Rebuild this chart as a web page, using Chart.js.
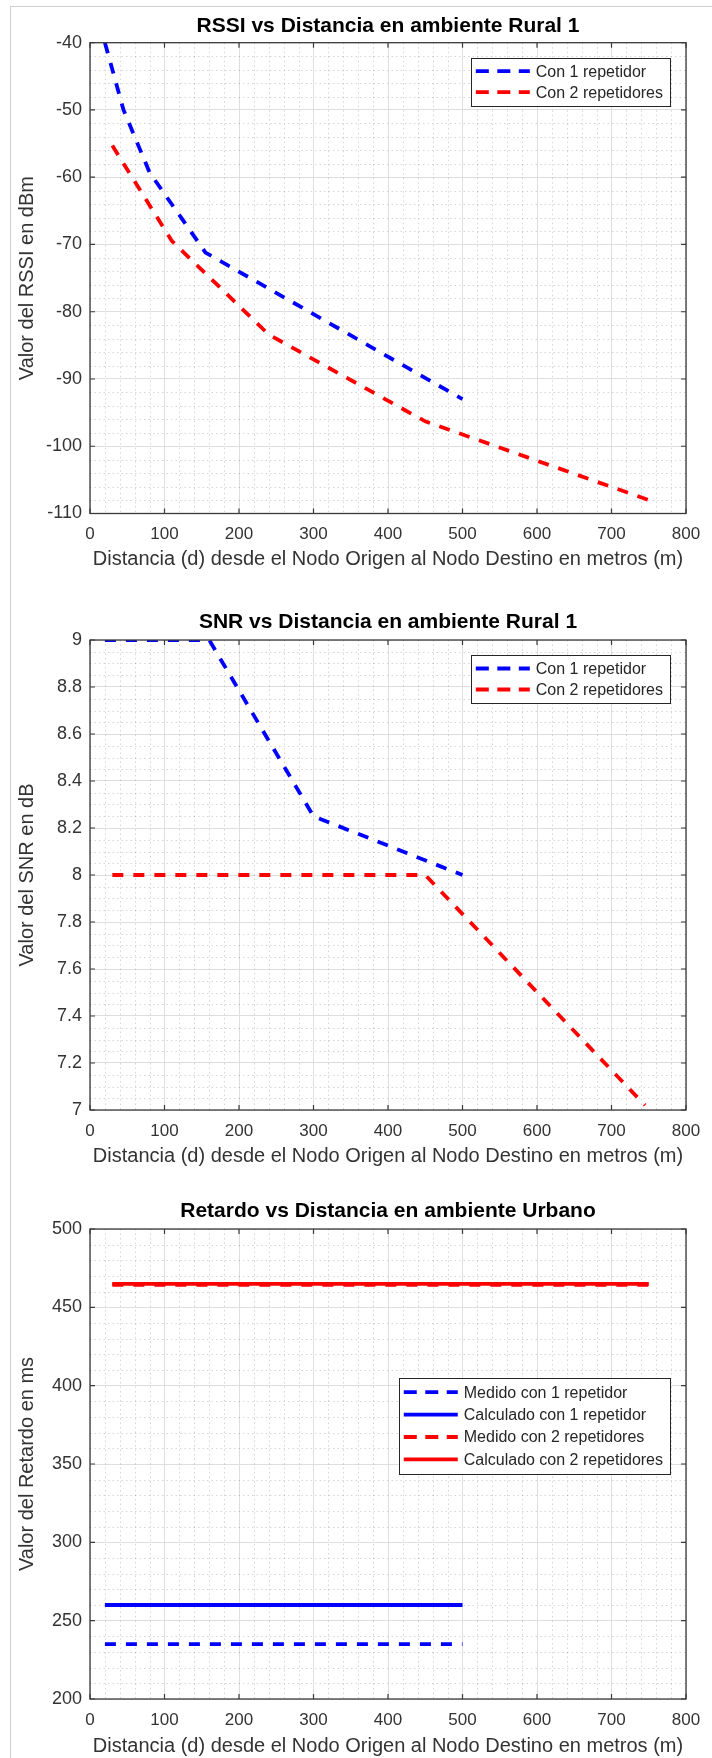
<!DOCTYPE html>
<html>
<head>
<meta charset="utf-8">
<script src="https://cdn.jsdelivr.net/npm/chart.js@4.4.0/dist/chart.umd.min.js"></script>
<style>
  html, body { margin: 0; padding: 0; background: #fff; }
  #page { position: relative; width: 712px; height: 1758px; overflow: hidden; }
  #frame { position: absolute; left: 10px; top: 6px; right: 0; bottom: 0;
           border-left: 1px solid #cfcfcf; border-top: 1px solid #cfcfcf; }
  .plot { position: absolute; left: 0; width: 712px; }
</style>
</head>
<body>
<div id="page">
  <div id="frame"></div>
  <div class="plot" style="top:0;height:580px"><canvas id="c1" width="712" height="580"></canvas></div>
  <div class="plot" style="top:580px;height:600px"><canvas id="c2" width="712" height="600"></canvas></div>
  <div class="plot" style="top:1180px;height:578px"><canvas id="c3" width="712" height="578"></canvas></div>
</div>
<script>
// --- data ---
const xTicks = [0, 100, 200, 300, 400, 500, 600, 700, 800];
const xTitle = 'Distancia (d) desde el Nodo Origen al Nodo Destino en metros (m)';

// RSSI
const rssiTicks = [-110, -100, -90, -80, -70, -60, -50, -40];
const rssiDist1 = [20, 45, 80, 155, 500];
const rssi1 = [-40, -50, -59.3, -71.2, -93];
const rssiDist2 = [30, 110, 240, 450, 750];
const rssi2 = [-55.3, -69.5, -83.4, -96.3, -108];

// SNR
const snrTicks = [7, 7.2, 7.4, 7.6, 7.8, 8, 8.2, 8.4, 8.6, 8.8, 9];
const snrDist1 = [20, 160, 300, 500];
const snr1 = [9, 9, 8.25, 8];
const snrDist2 = [30, 450, 745];
const snr2 = [8, 8, 7.02];

// Retardo
const retTicks = [200, 250, 300, 350, 400, 450, 500];
const retDist1 = [20, 500];
const retMedido1 = [235, 235];
const retCalc1 = [260, 260];
const retDist2 = [30, 750];
const retMedido2 = [464.4, 464.4];
const retCalc2 = [465, 465];

const labels12 = ['Con 1 repetidor', 'Con 2 repetidores'];
const labelsRet = ['Medido con 1 repetidor', 'Calculado con 1 repetidor',
                   'Medido con 2 repetidores', 'Calculado con 2 repetidores'];

// --- drawing ---
const FONT = '"Liberation Sans", Arial, Helvetica, sans-serif';
Chart.defaults.font.family = FONT;
const DASH = [11, 10];

function pts(xs, ys) { return xs.map((x, i) => ({ x: x, y: ys[i] })); }

function series(label, xs, ys, color, dashed, order) {
  return {
    label: label, data: pts(xs, ys), borderColor: color, backgroundColor: color,
    borderWidth: 3.8, borderDash: dashed ? DASH : [], pointRadius: 0,
    fill: false, tension: 0, order: order
  };
}

const matlabAxes = {
  id: 'matlabAxes',
  beforeDatasetsDraw(chart, args, o) {
    const { ctx, chartArea: a, scales: { x, y } } = chart;
    ctx.save();
    ctx.strokeStyle = 'rgba(0,0,0,0.16)';
    ctx.lineWidth = 1;
    ctx.setLineDash([1.5, 3]);
    const minor = (sc, step, major, vert) => {
      const n = Math.round((sc.max - sc.min) / step);
      for (let i = 1; i < n; i++) {
        const v = sc.min + i * step;
        const r = v / major;
        if (Math.abs(r - Math.round(r)) < 1e-6) continue;
        const p = Math.round(sc.getPixelForValue(v)) + 0.5;
        ctx.beginPath();
        if (vert) { ctx.moveTo(p, a.top); ctx.lineTo(p, a.bottom); }
        else { ctx.moveTo(a.left, p); ctx.lineTo(a.right, p); }
        ctx.stroke();
      }
    };
    minor(x, o.xMinor, 100, true);
    minor(y, o.yMinor, o.yMajor, false);
    ctx.restore();
  },
  afterDatasetsDraw(chart, args, o) {
    const { ctx, chartArea: a, scales: { x, y } } = chart;
    ctx.save();
    ctx.setLineDash([]);
    ctx.strokeStyle = '#3a3a3a';
    ctx.lineWidth = 1.3;
    ctx.strokeRect(a.left, a.top, a.right - a.left, a.bottom - a.top);
    ctx.lineWidth = 1.2;
    ctx.beginPath();
    x.ticks.forEach(t => {
      const p = x.getPixelForValue(t.value);
      ctx.moveTo(p, a.bottom); ctx.lineTo(p, a.bottom - 5);
      ctx.moveTo(p, a.top); ctx.lineTo(p, a.top + 5);
    });
    y.ticks.forEach(t => {
      const p = y.getPixelForValue(t.value);
      ctx.moveTo(a.left, p); ctx.lineTo(a.left + 5, p);
      ctx.moveTo(a.right, p); ctx.lineTo(a.right - 5, p);
    });
    ctx.stroke();

    // legend box
    const L = o.legend;
    const items = chart.data.datasets.slice().sort((p, q) => p.legendIndex - q.legendIndex);
    ctx.font = '16px ' + FONT;
    let tw = 0;
    items.forEach(d => { tw = Math.max(tw, ctx.measureText(d.label).width); });
    const w = 65 + tw + 7;
    const h = items.length * L.rowH + 6;
    const bx = a.right - L.right - w;
    const by = a.top + L.top;
    ctx.fillStyle = '#fff';
    ctx.fillRect(bx, by, w, h);
    ctx.strokeStyle = '#262626';
    ctx.lineWidth = 1;
    ctx.strokeRect(Math.round(bx) + 0.5, Math.round(by) + 0.5, Math.round(w), Math.round(h));
    ctx.textBaseline = 'middle';
    ctx.textAlign = 'left';
    items.forEach((d, i) => {
      const cy = by + 3 + L.rowH * (i + 0.5);
      ctx.strokeStyle = d.borderColor;
      ctx.lineWidth = 3.8;
      ctx.setLineDash(d.borderDash.length ? [13, 8.5] : []);
      ctx.beginPath();
      ctx.moveTo(bx + 5, cy); ctx.lineTo(bx + 59, cy);
      ctx.stroke();
      ctx.setLineDash([]);
      ctx.fillStyle = '#262626';
      ctx.fillText(d.label, bx + 65, cy + 1);
    });
    ctx.restore();
  }
};

function makeChart(id, c) {
  new Chart(document.getElementById(id), {
    type: 'line',
    data: { datasets: c.datasets },
    plugins: [matlabAxes],
    options: {
      responsive: false,
      animation: false,
      events: [],
      layout: { padding: { left: 0, right: 26, top: 0, bottom: 0 } },
      scales: {
        x: {
          type: 'linear', min: 0, max: 800,
          afterBuildTicks: s => { s.ticks = xTicks.map(v => ({ value: v })); },
          afterFit: s => { s.height = c.xAxisH; },
          grid: { color: '#dedede', lineWidth: 1, drawTicks: false },
          border: { display: false },
          ticks: { color: '#333', font: { size: 17 }, padding: 11, maxRotation: 0, autoSkip: false,
                   callback: v => String(v) },
          title: { display: true, text: xTitle, color: '#333', font: { size: 20 },
                   padding: { top: 0, bottom: c.xTitleBottom } }
        },
        y: {
          type: 'linear', min: c.yTicks[0], max: c.yTicks[c.yTicks.length - 1],
          afterBuildTicks: s => { s.ticks = c.yTicks.map(v => ({ value: v })); },
          afterFit: s => { s.width = 90; },
          grid: { color: '#dedede', lineWidth: 1, drawTicks: false },
          border: { display: false },
          ticks: { color: '#333', font: { size: 18 }, padding: 8, autoSkip: false,
                   callback: v => String(v) },
          title: { display: true, text: c.yTitle, color: '#333', font: { size: 20 },
                   padding: { top: 15.5, bottom: 0 } }
        }
      },
      plugins: {
        legend: { display: false },
        tooltip: { enabled: false },
        title: {
          display: true, text: c.title, color: '#000', fullSize: false,
          font: { size: 21, weight: 'bold' },
          padding: { top: c.titleTop, bottom: c.titleBottom }
        },
        matlabAxes: c.axes
      }
    }
  });
}

function withIdx(ds) { ds.forEach((d, i) => { d.legendIndex = i; }); return ds; }

makeChart('c1', {
  title: 'RSSI vs Distancia en ambiente Rural 1',
  yTitle: 'Valor del RSSI en dBm',
  yTicks: rssiTicks,
  titleTop: 13.4, titleBottom: 4.1,
  xAxisH: 66.5, xTitleBottom: 8.2,
  axes: { xMinor: 20, yMinor: 2, yMajor: 10, legend: { right: 16, top: 15, rowH: 21 } },
  datasets: withIdx([
    series(labels12[0], rssiDist1, rssi1, '#0000ff', true, 0),
    series(labels12[1], rssiDist2, rssi2, '#ff0000', true, 1)
  ])
});

makeChart('c2', {
  title: 'SNR vs Distancia en ambiente Rural 1',
  yTitle: 'Valor del SNR en dB',
  yTicks: snrTicks,
  titleTop: 29.4, titleBottom: 5.4,
  xAxisH: 70, xTitleBottom: 11.2,
  axes: { xMinor: 20, yMinor: 0.05, yMajor: 0.2, legend: { right: 16, top: 15, rowH: 21 } },
  datasets: withIdx([
    series(labels12[0], snrDist1, snr1, '#0000ff', true, 0),
    series(labels12[1], snrDist2, snr2, '#ff0000', true, 1)
  ])
});

makeChart('c3', {
  title: 'Retardo vs Distancia en ambiente Urbano',
  yTitle: 'Valor del Retardo en ms',
  yTicks: retTicks,
  titleTop: 18.9, titleBottom: 4.9,
  xAxisH: 59, xTitleBottom: 0,
  axes: { xMinor: 20, yMinor: 10, yMajor: 50, legend: { right: 16, top: 149, rowH: 22.4 } },
  datasets: withIdx([
    series(labelsRet[0], retDist1, retMedido1, '#0000ff', true, 3),
    series(labelsRet[1], retDist1, retCalc1, '#0000ff', false, 2),
    series(labelsRet[2], retDist2, retMedido2, '#ff0000', true, 1),
    series(labelsRet[3], retDist2, retCalc2, '#ff0000', false, 0)
  ])
});
</script>
</body>
</html>
